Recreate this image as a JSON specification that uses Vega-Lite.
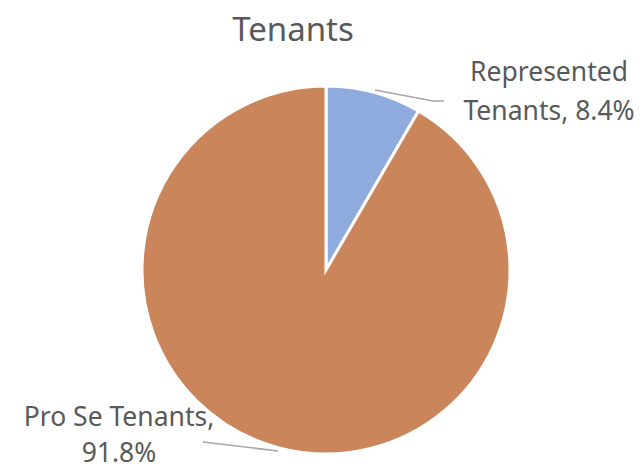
{
  "$schema": "https://vega.github.io/schema/vega-lite/v6.json",
  "width": 634,
  "height": 400,
  "autosize": {"type": "none"},
  "padding": {"left": 9, "top": 70, "right": 0, "bottom": 0},
  "background": "white",
  "config": {"view": {"stroke": null}},
  "title": {
    "text": "Tenants",
    "font": "Noto Sans",
    "fontSize": 33,
    "fontWeight": "normal",
    "color": "#595959",
    "anchor": "middle",
    "frame": "group",
    "dx": -33,
    "offset": 12
  },
  "layer": [
    {
      "data": {"values": [
        {"category": "Represented Tenants", "value": 8.4, "rank": 1},
        {"category": "Pro Se Tenants", "value": 91.8, "rank": 2}
      ]},
      "mark": {"type": "arc", "outerRadius": 184, "stroke": "white", "strokeWidth": 3},
      "encoding": {
        "theta": {"field": "value", "type": "quantitative", "stack": true},
        "order": {"field": "rank", "type": "quantitative"},
        "color": {
          "field": "category",
          "type": "nominal",
          "scale": {"domain": ["Represented Tenants", "Pro Se Tenants"], "range": ["#8FAADC", "#CA865A"]},
          "legend": null
        }
      }
    },
    {
      "data": {"values": [
        {"line": "r", "i": 1, "x": 49, "y": 180},
        {"line": "r", "i": 2, "x": 107, "y": 169},
        {"line": "r", "i": 3, "x": 118, "y": 169},
        {"line": "p", "i": 1, "x": -123, "y": -172},
        {"line": "p", "i": 2, "x": -48, "y": -181}
      ]},
      "mark": {"type": "line", "color": "#A6A6A6", "strokeWidth": 1.5},
      "encoding": {
        "x": {"field": "x", "type": "quantitative", "scale": {"domain": [-317, 317]}, "axis": null},
        "y": {"field": "y", "type": "quantitative", "scale": {"domain": [-200, 200]}, "axis": null},
        "detail": {"field": "line", "type": "nominal"},
        "order": {"field": "i", "type": "quantitative"}
      }
    },
    {
      "data": {"values": [
        {"text": "Represented", "x": 223, "y": 197},
        {"text": "Tenants, 8.4%", "x": 223, "y": 158},
        {"text": "Pro Se Tenants,", "x": -207, "y": -148},
        {"text": "91.8%", "x": -207, "y": -184}
      ]},
      "mark": {"type": "text", "font": "Noto Sans", "fontSize": 26.5, "color": "#595959", "align": "center", "baseline": "middle"},
      "encoding": {
        "x": {"field": "x", "type": "quantitative", "scale": {"domain": [-317, 317]}, "axis": null},
        "y": {"field": "y", "type": "quantitative", "scale": {"domain": [-200, 200]}, "axis": null},
        "text": {"field": "text", "type": "nominal"}
      }
    }
  ]
}
